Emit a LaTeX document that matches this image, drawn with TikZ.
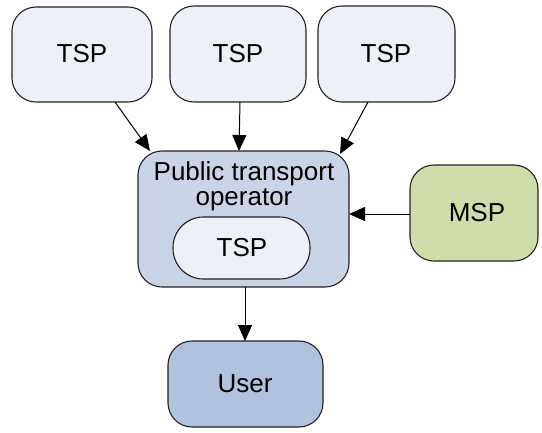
\documentclass[tikz,border=0pt]{standalone}
\usepackage{fontspec}
\setmainfont{Liberation Sans}
\usetikzlibrary{arrows.meta}
\definecolor{tspfill}{HTML}{EDF0F6}
\definecolor{ptofill}{HTML}{C9D5E6}
\definecolor{mspfill}{HTML}{CEDDA9}
\definecolor{userfill}{HTML}{B0C2DD}
\definecolor{edge}{HTML}{222222}
\tikzset{
  box/.style={draw=edge, line width=1.1pt, rounded corners=24pt, inner sep=0pt},
  lbl/.style={font=\fontsize{26}{29}\selectfont, align=center, text=black},
  conn/.style={draw=black, line width=1pt, -{Triangle[length=16pt,width=14pt]}}
}
\begin{document}
\begin{tikzpicture}[x=1pt,y=-1pt]
\useasboundingbox (0,0) rectangle (542,432);
% provider boxes along the top
\draw[box, fill=tspfill] (12,7) rectangle (152,102);
\node[lbl] (tsp1) at (82,54) {TSP};
\coordinate (tsp1b) at (115,102);
\draw[box, fill=tspfill] (170,6) rectangle (306,102);
\node[lbl] (tsp2) at (238,54) {TSP};
\coordinate (tsp2b) at (240,102);
\draw[box, fill=tspfill] (318,6) rectangle (455,102);
\node[lbl] (tsp3) at (386,54) {TSP};
\coordinate (tsp3b) at (368,102);
% operator with its own TSP
\draw[box, fill=ptofill] (138,151) rectangle (349,287);
\node[lbl, align=center] (pto) at (244,186) {Public transport\\[-4pt]operator};
\draw[box, fill=tspfill, rounded corners=30.5pt] (173,217) rectangle (310,279);
\node[lbl] (tspin) at (242,248) {TSP};
\coordinate (ptoA) at (150,151);
\coordinate (ptoB) at (239,151);
\coordinate (ptoC) at (340,154);
\coordinate (ptoR) at (349,214);
\coordinate (ptoD) at (245,287);
% MSP
\draw[box, fill=mspfill] (410,165) rectangle (538,261);
\node[lbl] (msp) at (477,213) {MSP};
\coordinate (mspL) at (410,214);
% user
\draw[box, fill=userfill] (168,341) rectangle (323,427);
\node[lbl] (user) at (245,384) {User};
\coordinate (userT) at (245,341);
% connectors
\draw[conn] (tsp1b) -- (ptoA);
\draw[conn] (tsp2b) -- (ptoB);
\draw[conn] (tsp3b) -- (ptoC);
\draw[conn] (mspL) -- (ptoR);
\draw[conn] (ptoD) -- (userT);
\end{tikzpicture}
\end{document}
